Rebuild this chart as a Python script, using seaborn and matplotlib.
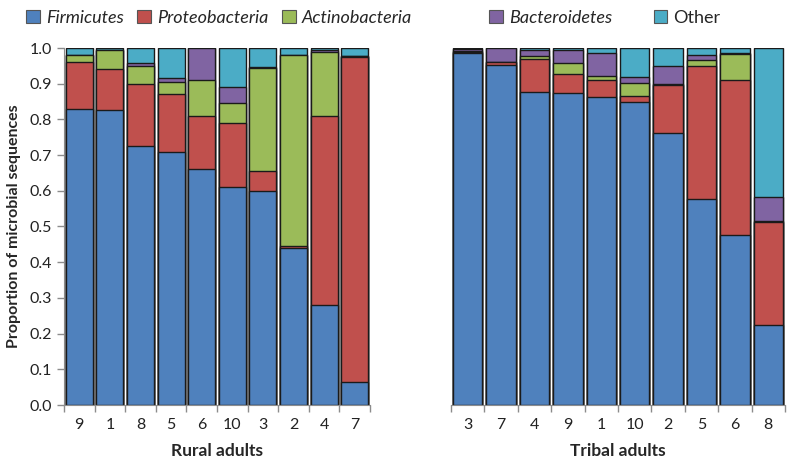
import numpy as np
import pandas as pd
import seaborn as sns
import matplotlib.pyplot as plt
from matplotlib.patches import Patch
from matplotlib.ticker import FixedLocator

sns.set_style("white")
plt.rcParams['font.family'] = ['Lato', 'DejaVu Sans']

phyla = ["Firmicutes", "Proteobacteria", "Actinobacteria", "Bacteroidetes", "Other"]
colors = ["#4F81BD", "#C0504D", "#9BBB59", "#8064A2", "#4BACC6"]

# rural adults
rural_ids = ["9", "1", "8", "5", "6", "10", "3", "2", "4", "7"]
rural_firmicutes = [0.83, 0.825, 0.725, 0.71, 0.66, 0.61, 0.60, 0.44, 0.28, 0.065]
rural_proteo = [0.13, 0.115, 0.175, 0.16, 0.15, 0.18, 0.055, 0.005, 0.53, 0.91]
rural_actino = [0.02, 0.055, 0.05, 0.035, 0.10, 0.055, 0.29, 0.535, 0.18, 0.003]
rural_bacteroidetes = [0.0, 0.0, 0.007, 0.01, 0.09, 0.045, 0.003, 0.0, 0.003, 0.0]
rural_other = [0.02, 0.005, 0.043, 0.085, 0.0, 0.11, 0.052, 0.02, 0.007, 0.022]

# tribal adults
tribal_ids = ["3", "7", "4", "9", "1", "10", "2", "5", "6", "8"]
tribal_firmicutes = [0.985, 0.952, 0.877, 0.874, 0.863, 0.849, 0.762, 0.577, 0.475, 0.225]
tribal_proteo = [0.005, 0.008, 0.091, 0.052, 0.046, 0.017, 0.133, 0.373, 0.436, 0.287]
tribal_actino = [0.002, 0.0, 0.01, 0.031, 0.013, 0.036, 0.005, 0.016, 0.072, 0.003]
tribal_bacteroidetes = [0.005, 0.04, 0.017, 0.037, 0.064, 0.018, 0.05, 0.014, 0.004, 0.067]
tribal_other = [0.003, 0.0, 0.005, 0.006, 0.014, 0.08, 0.05, 0.02, 0.013, 0.418]

panels = [
    ("Rural adults", rural_ids,
     [rural_firmicutes, rural_proteo, rural_actino, rural_bacteroidetes, rural_other]),
    ("Tribal adults", tribal_ids,
     [tribal_firmicutes, tribal_proteo, tribal_actino, tribal_bacteroidetes, tribal_other]),
]

fig = plt.figure(figsize=(7.9, 4.61), dpi=100)
ax_l = fig.add_axes([64 / 790, 1 - 405 / 461, 306 / 790, 357 / 461])
ax_r = fig.add_axes([451 / 790, 1 - 405 / 461, 334 / 790, 357 / 461])

grey = "#8c8c8c"
for ax, (label, ids, layers) in zip([ax_l, ax_r], panels):
    df = pd.DataFrame(dict(zip(phyla, layers)), index=ids)
    cum = df.cumsum(axis=1)
    # draw from the top layer down so each lower layer covers the one above
    for phylum, col in reversed(list(zip(phyla, colors))):
        sns.barplot(x=ids, y=cum[phylum].values, order=ids, color=col,
                    saturation=1, width=0.88, edgecolor="#1a1a1a",
                    linewidth=1.0, ax=ax)
    ax.set_xlim(-0.5, len(ids) - 0.5)
    ax.set_ylim(0, 1.0)
    ax.set_xlabel(label, fontsize=12.5, fontweight="bold", labelpad=8)
    ax.tick_params(axis="x", which="major", length=0, labelsize=11.5, pad=9,
                   labelcolor="#222222")
    ax.xaxis.set_minor_locator(FixedLocator(np.arange(-0.5, len(ids), 1.0)))
    ax.tick_params(axis="x", which="minor", length=5, width=1, color=grey,
                   direction="out", bottom=True)
    sns.despine(ax=ax, top=True, right=True)
    ax.spines["bottom"].set_color(grey)
    ax.spines["left"].set_color(grey)

ax_l.set_yticks(np.arange(0, 1.01, 0.1))
ax_l.set_yticklabels([f"{v:.1f}" for v in np.arange(0, 1.01, 0.1)])
ax_l.tick_params(axis="y", length=5, width=1, color=grey, direction="out",
                 left=True, labelsize=11.5, labelcolor="#222222")
ax_l.set_ylabel("Proportion of microbial sequences", fontsize=11.5,
                fontweight="bold", labelpad=6)

ax_r.set_yticks([])
ax_r.set_ylabel("")
ax_r.spines["left"].set_visible(False)

handles = [Patch(facecolor=c, edgecolor="#555555", linewidth=0.8) for c in colors]
leg_kw = dict(frameon=False, fontsize=13, handlelength=0.75, handleheight=0.75,
              handletextpad=0.35, borderpad=0, borderaxespad=0,
              loc="center left")
leg1 = fig.legend(handles[:3], phyla[:3], ncol=3, columnspacing=0.75,
                  bbox_to_anchor=(26 / 790, 1 - 18 / 461), **leg_kw)
leg2 = fig.legend(handles[3:], phyla[3:], ncol=2, columnspacing=2.3,
                  bbox_to_anchor=(489 / 790, 1 - 18 / 461), **leg_kw)
for leg in (leg1, leg2):
    for t in leg.get_texts():
        if t.get_text() != "Other":
            t.set_fontstyle("italic")

fig.savefig("out.png", dpi=100)
